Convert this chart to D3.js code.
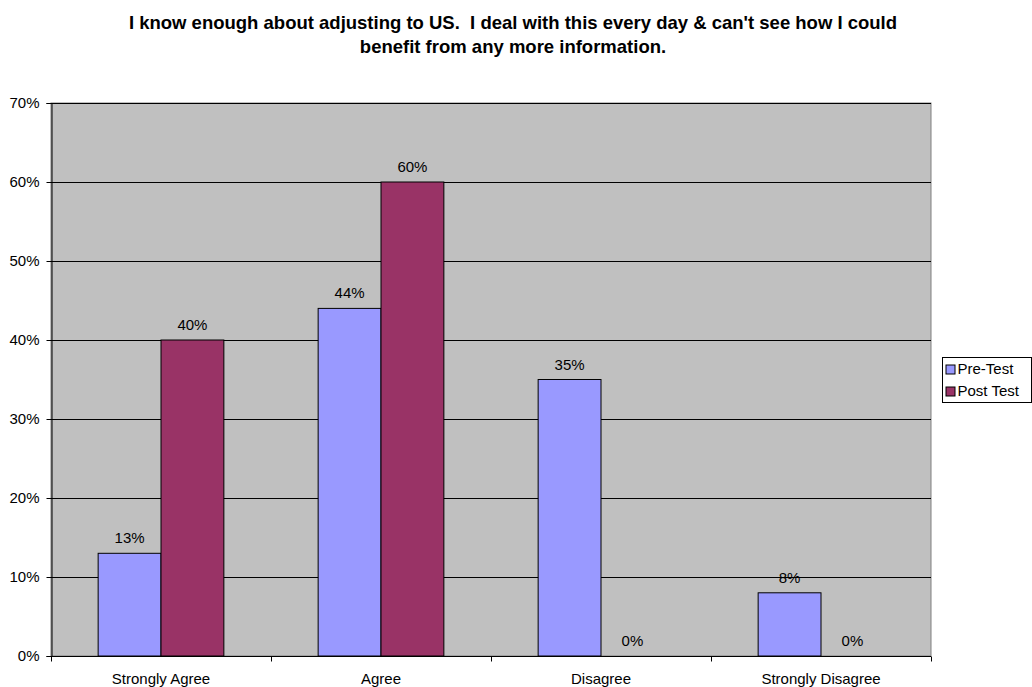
<!DOCTYPE html>
<html>
<head>
<meta charset="utf-8">
<script src="https://cdn.jsdelivr.net/npm/d3@7"></script>
<style>
  body { margin: 0; background: #fff; }
  text { font-family: "Liberation Sans", Arial, sans-serif; fill: #000; }
</style>
</head>
<body>
<svg id="chart" width="1032" height="687"></svg>
<script>
const categories = ["Strongly Agree", "Agree", "Disagree", "Strongly Disagree"];
const seriesNames = ["Pre-Test", "Post Test"];
const preTest = [0.13, 0.44, 0.35, 0.08];
const postTest = [0.40, 0.60, 0.00, 0.00];
const tickValues = [0, 0.1, 0.2, 0.3, 0.4, 0.5, 0.6, 0.7];
const titleLines = [
  "I know enough about adjusting to US.  I deal with this every day & can't see how I could",
  "benefit from any more information."
];
const colors = ["#9999FF", "#993366"];

const svg = d3.select("#chart");
const plot = { left: 51, top: 103, right: 931, bottom: 656 };
const fontSize = 15;

const x = d3.scaleBand().domain(categories).range([plot.left, plot.right]).paddingInner(0).paddingOuter(0);
const xs = d3.scaleBand().domain(seriesNames).range([0, x.bandwidth()]).paddingInner(0).paddingOuter(0.75);
const y = d3.scaleLinear().domain([0, 0.7]).range([plot.bottom, plot.top]);

// title
svg.append("g").selectAll("text").data(titleLines).join("text")
  .attr("x", 513).attr("y", (d, i) => 29 + i * 24)
  .attr("text-anchor", "middle")
  .attr("font-size", 18.5).attr("font-weight", "bold")
  .style("white-space", "pre")
  .text(d => d);

// plot background
svg.append("rect")
  .attr("x", plot.left).attr("y", plot.top)
  .attr("width", plot.right - plot.left).attr("height", plot.bottom - plot.top)
  .attr("fill", "#C0C0C0").attr("stroke", "#808080").attr("stroke-width", 1);

// gridlines
svg.append("g").selectAll("line").data(tickValues.slice(1)).join("line")
  .attr("x1", plot.left).attr("x2", plot.right)
  .attr("y1", d => Math.round(y(d)) + 0.5).attr("y2", d => Math.round(y(d)) + 0.5)
  .attr("stroke", "#000").attr("stroke-width", 1);

// y axis
const yAxis = svg.append("g").attr("transform", `translate(${plot.left + 0.5},0)`)
  .call(d3.axisLeft(y).tickValues(tickValues).tickFormat(d3.format(".0%")).tickSize(5).tickPadding(7));
yAxis.select(".domain").attr("stroke", "#000");
yAxis.selectAll(".tick line").attr("stroke", "#000");
yAxis.selectAll("text").attr("font-size", fontSize).attr("font-family", "Liberation Sans, Arial, sans-serif").attr("fill", "#000");

// x axis
const xAxis = svg.append("g").attr("transform", `translate(0,${plot.bottom + 0.5})`);
xAxis.append("line").attr("x1", plot.left).attr("x2", plot.right).attr("stroke", "#000");
const boundaries = categories.map(c => x(c)).concat([plot.right]);
xAxis.selectAll("line.tk").data(boundaries).join("line").attr("class", "tk")
  .attr("x1", d => Math.round(d) + 0.5).attr("x2", d => Math.round(d) + 0.5)
  .attr("y1", 0).attr("y2", 5).attr("stroke", "#000");
xAxis.selectAll("text").data(categories).join("text")
  .attr("x", d => x(d) + x.bandwidth() / 2).attr("y", 27)
  .attr("text-anchor", "middle").attr("font-size", fontSize).text(d => d);

// bars
const rows = categories.map((c, i) => ({ cat: c, vals: [preTest[i], postTest[i]] }));
const groups = svg.append("g").selectAll("g").data(rows).join("g")
  .attr("transform", d => `translate(${x(d.cat)},0)`);
groups.selectAll("rect").data(d => d.vals.map((v, j) => ({ v, j })))
  .join("rect")
  .filter(d => d.v > 0)
  .attr("x", d => xs(seriesNames[d.j]))
  .attr("y", d => y(d.v))
  .attr("width", xs.bandwidth())
  .attr("height", d => y(0) - y(d.v))
  .attr("fill", d => colors[d.j])
  .attr("stroke", "#000").attr("stroke-width", 1);
groups.selectAll("text").data(d => d.vals.map((v, j) => ({ v, j })))
  .join("text")
  .attr("x", d => xs(seriesNames[d.j]) + xs.bandwidth() / 2)
  .attr("y", d => y(d.v) - 10)
  .attr("text-anchor", "middle").attr("font-size", fontSize)
  .text(d => d3.format(".0%")(d.v));

// legend
const lg = svg.append("g").attr("transform", "translate(942.5,357.5)");
lg.append("rect").attr("width", 89).attr("height", 45).attr("fill", "#fff").attr("stroke", "#000");
seriesNames.forEach((s, i) => {
  lg.append("rect").attr("x", 3.5).attr("y", 7.5 + i * 22).attr("width", 9).attr("height", 9)
    .attr("fill", colors[i]).attr("stroke", "#000");
  lg.append("text").attr("x", 15).attr("y", 16 + i * 22).attr("font-size", fontSize).text(s);
});
</script>
</body>
</html>
